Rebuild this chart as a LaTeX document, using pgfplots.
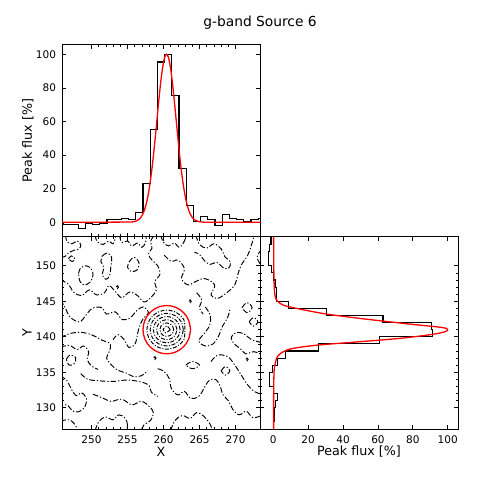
\documentclass[border=0pt]{standalone}
\usepackage{fontspec}
\setmainfont{DejaVu Sans}
\usepackage{pgfplots}
\pgfplotsset{compat=1.18}
\pgfplotsset{
  base/.style={
    scale only axis, width=198pt,
    axis line style={black, line width=0.9pt},
    tick align=inside,
    tick style={black, line width=0.7pt},
    major tick length=4pt, minor tick length=2.2pt,
    tick label style={font=\fontsize{10.5}{12}\selectfont},
    label style={font=\fontsize{12.7}{14}\selectfont},
    /pgf/number format/assume math mode=true,
    yticklabel style={xshift=-2.5pt},
    xticklabel style={yshift=-2.5pt},
    no markers,
  },
  cnt/.style={black, line width=0.95pt, dash pattern=on 5.5pt off 2pt on 1.2pt off 2pt, smooth, tension=0.6, forget plot},
  ring/.style={black, line width=0.95pt, dash pattern=on 4pt off 1.6pt on 1pt off 1.6pt, smooth, tension=0.55, forget plot},
}
\begin{document}
\begin{tikzpicture}
\path[use as bounding box] (0pt,0pt) rectangle (481pt,482pt);

% ---------------- top histogram ----------------
\begin{axis}[base, at={(62pt,245.3pt)}, anchor=south west, height=192pt,
  xmin=245.9, xmax=273.4, ymin=-8.6, ymax=105.7,
  xtick={250,255,260,265,270}, xticklabels={}, minor x tick num=4,
  ytick={0,20,40,60,80,100},
  ylabel={Peak flux [\%]},
  every axis y label/.style={at={(axis description cs:0,0.5)}, xshift=-34pt, rotate=90, anchor=center, font=\fontsize{12.7}{14}\selectfont},
]
\addplot[const plot, black, line width=1.1pt] coordinates {
(245.15,-0.2)(246.15,-1.2)(247.15,-1.2)(248.15,-3.8)(249.15,-0.8)(250.15,-1.6)
(251.15,-0.8)(252.15,1.8)(253.15,1.4)(254.15,2.4)(255.15,1.8)(256.15,5.8)
(257.15,23.2)(258.15,55.4)(259.15,95.4)(260.15,100)(261.15,75.4)(262.15,32.1)
(263.15,10.1)(264.15,0.4)(265.15,3.3)(266.15,1.4)(267.15,-2.2)(268.15,4.8)
(269.15,2.0)(270.15,1.4)(271.15,0.4)(272.15,1.4)(273.15,2.4)(273.6,2.4)};
\addplot[red, line width=1.3pt, smooth] coordinates {
(245.9,0)(250.0,0)(254.42,0.1)(255.42,0.1)(255.92,0.36)(256.42,1.2)(256.67,2.0)(256.92,3.3)
(257.17,5.3)(257.42,8.2)(257.67,12.2)(257.92,17.6)(258.17,24.5)(258.42,32.9)
(258.67,42.7)(258.92,53.5)(259.17,64.8)(259.42,75.7)(259.67,85.5)(259.92,93.3)
(260.17,98.3)(260.42,100)(260.67,98.3)(260.92,93.3)(261.17,85.5)(261.42,75.7)
(261.67,64.8)(261.92,53.5)(262.17,42.7)(262.42,32.9)(262.67,24.5)(262.92,17.6)
(263.17,12.2)(263.42,8.2)(263.67,5.3)(263.92,3.3)(264.17,2.0)(264.42,1.2)
(264.92,0.36)(265.42,0.1)(266.42,0)(270,0)(273.4,0)};
\end{axis}

% ---------------- contour panel ----------------
\begin{axis}[base, at={(62pt,52.7pt)}, anchor=south west, height=192.6pt,
  xmin=245.9, xmax=273.4, ymin=126.96, ymax=154.1,
  xtick={250,255,260,265,270}, ytick={130,135,140,145,150},
  minor x tick num=4, minor y tick num=4,
  xlabel={X}, ylabel={Y},
  every axis y label/.style={at={(axis description cs:0,0.5)}, xshift=-35pt, rotate=90, anchor=center, font=\fontsize{12.7}{14}\selectfont},
  every axis x label/.style={at={(axis description cs:0.5,0)}, yshift=-22.4pt, anchor=center, font=\fontsize{12.7}{14}\selectfont},
]
% noise contours
\addplot[cnt] coordinates {(246.4,154.3)(246.6,153.4)(247.3,153.1)(248.0,153.5)(248.5,153.0)(248.3,152.4)(247.6,152.2)(246.8,151.8)(246.3,151.3)(245.7,151.2)};
\addplot[cnt] coordinates {(246.8,151.0)(247.2,151.4)(247.7,151.0)(247.3,150.6)(246.8,151.0)};
\addplot[cnt] coordinates {(248.2,148.9)(248.5,149.7)(249.3,150.0)(250.0,149.5)(250.2,148.6)(249.8,147.7)(249.0,147.3)(248.4,147.8)(248.2,148.9)};
\addplot[cnt] coordinates {(251.5,151.4)(252.2,151.8)(252.8,151.2)(252.7,150.0)(252.5,148.6)(252.0,148.1)(251.5,148.7)(251.7,149.8)(251.3,150.6)(251.5,151.4)};
\addplot[cnt] coordinates {(250.5,154.3)(250.8,153.4)(251.6,153.0)(252.4,153.5)(253.0,153.1)(253.4,154.3)};
\addplot[cnt] coordinates {(253.9,154.3)(254.2,153.3)(255.0,153.5)(255.6,152.8)(256.4,153.2)(257.0,152.6)(257.5,153.3)(257.6,154.3)};
\addplot[cnt] coordinates {(255.2,150.5)(255.9,151.2)(256.6,150.4)(256.3,149.4)(255.5,149.2)(255.0,149.8)(255.2,150.5)};
\addplot[cnt] coordinates {(245.7,148.0)(246.8,147.4)(247.5,146.3)(248.6,145.8)(249.7,146.6)(250.7,145.9)(251.8,146.2)(252.4,147.2)(253.2,146.5)(254.2,145.5)(255.3,146.3)(256.4,145.8)(257.3,144.9)(258.3,145.6)(259.0,146.6)(258.8,147.8)(259.5,148.8)(259.2,150.0)(258.5,150.7)(257.9,151.6)(258.4,152.5)(258.2,153.4)(258.7,154.3)};
\addplot[cnt] coordinates {(253.45,147.0)(253.6,147.2)(253.75,147.0)(253.6,146.8)(253.45,147.0)};
\addplot[cnt] coordinates {(245.7,145.2)(246.4,144.0)(247.0,142.8)(248.3,142.1)(249.2,143.0)(250.1,144.0)(251.4,144.1)(252.1,143.2)(253.3,143.5)(254.3,142.4)(255.4,142.7)(256.3,143.7)(257.2,144.2)(257.9,143.4)(257.2,142.6)(256.6,141.3)(256.3,139.9)(256.0,138.9)(255.2,138.5)(254.6,139.5)(253.7,140.3)(253.0,139.6)};
\addplot[cnt] coordinates {(245.7,139.9)(247.2,140.5)(248.8,140.6)(250.2,140.2)(251.5,139.5)(252.6,139.0)(252.5,138.0)(252.1,137.0)(252.8,136.0)(253.6,135.3)(254.8,134.9)(255.8,134.4)(256.9,134.5)(257.8,135.2)};
\addplot[cnt] coordinates {(248.5,134.8)(249.5,134.0)(251.0,133.8)(253.0,133.7)(255.0,133.9)(257.0,133.6)(258.0,133.1)(258.3,132.2)(259.2,131.6)};
\addplot[cnt] coordinates {(246.5,136.8)(247.0,137.4)(247.8,137.1)(247.6,136.2)(246.9,136.0)(246.5,136.8)};
\addplot[cnt] coordinates {(245.7,138.5)(246.9,138.8)(248.0,138.2)(248.9,138.7)(249.6,137.9)(249.4,136.8)(250.0,135.9)(250.9,135.4)};
\addplot[cnt] coordinates {(245.7,134.5)(246.6,133.8)(247.2,132.6)(247.9,131.7)(248.6,132.1)(249.3,131.3)(249.0,130.0)(248.1,129.4)(247.3,129.6)(246.6,130.4)(245.7,130.2)};
\addplot[cnt] coordinates {(250.2,131.9)(251.5,131.4)(252.7,130.9)(254.2,131.2)(255.6,130.4)(256.9,130.9)(258.0,130.2)(258.6,129.3)(258.2,128.2)(257.3,127.6)(256.9,126.8)};
\addplot[cnt] coordinates {(245.7,128.1)(246.9,128.3)(247.8,127.5)(248.0,126.8)};
\addplot[cnt] coordinates {(250.5,126.8)(251.0,128.0)(251.9,128.7)(253.0,128.3)(253.8,129.0)(254.7,128.5)(255.0,127.5)(254.8,126.8)};
\addplot[cnt] coordinates {(259.6,154.3)(260.0,153.3)(260.7,152.8)(261.5,153.2)(262.2,152.6)(262.8,153.3)(263.2,154.3)};
\addplot[cnt] coordinates {(260.1,151.5)(261.1,150.6)(262.0,150.8)(262.9,149.6)(262.5,148.2)(263.4,147.3)(264.3,147.7)(265.7,148.2)(267.1,147.3)(266.6,145.9)(267.5,145.4)(268.9,146.3)(269.9,147.3)(270.3,148.7)(270.8,150.1)(271.7,151.5)(272.2,152.9)(272.6,154.3)};
\addplot[cnt] coordinates {(264.5,154.3)(265.0,153.0)(266.0,152.5)(267.0,153.1)(268.0,152.4)(268.5,151.3)(269.3,150.5)(269.0,149.6)(268.2,149.8)(267.4,150.5)(266.5,150.2)(265.7,150.7)(265.0,151.6)(264.3,151.9)};
\addplot[cnt] coordinates {(273.6,152.3)(273.0,151.2)(273.6,150.0)};
\addplot[cnt] coordinates {(264.6,146.2)(265.3,145.2)(265.0,144.1)(265.5,143.2)};
\addplot[cnt] coordinates {(263.55,145.0)(263.7,145.2)(263.85,145.0)(263.7,144.8)(263.55,145.0)};
\addplot[cnt] coordinates {(270.9,144.1)(271.6,144.8)(272.3,144.1)(271.6,143.4)(270.9,144.1)};
\addplot[cnt] coordinates {(271.9,142.1)(272.5,142.7)(273.1,142.1)(272.5,141.5)(271.9,142.1)};
\addplot[cnt] coordinates {(265.8,144.2)(266.5,143.0)(266.4,141.6)(265.6,140.4)(264.9,139.4)(265.8,138.7)(266.9,139.0)(267.6,140.0)(268.2,141.5)(268.9,142.7)(269.2,143.8)};
\addplot[cnt] coordinates {(273.6,139.2)(272.2,139.6)(271.2,140.4)(270.1,140.6)(269.4,139.9)(269.8,139.0)(270.6,138.4)(271.4,137.6)(272.5,137.9)(273.6,137.5)};
\addplot[cnt] coordinates {(263.1,136.0)(264.0,136.5)(265.0,136.0)(264.0,135.5)(263.1,136.0)};
\addplot[cnt] coordinates {(268.0,135.2)(268.6,135.8)(269.2,135.2)(268.6,134.6)(268.0,135.2)};
\addplot[cnt] coordinates {(266.6,136.5)(267.5,137.4)(268.9,137.2)(269.9,136.0)(270.8,134.6)(271.7,133.2)(272.6,132.3)(273.6,131.9)};
\addplot[cnt] coordinates {(259.2,135.5)(260.1,135.1)(260.8,134.1)(261.1,132.7)(262.0,131.8)(262.9,132.3)(263.8,131.3)(264.9,131.6)(265.6,132.7)(266.3,133.8)(267.2,134.0)(267.9,133.0)(268.2,131.9)(269.0,131.0)(269.6,129.8)(270.5,129.0)(271.5,129.5)(272.4,128.6)(273.6,128.9)};
\addplot[cnt] coordinates {(261.0,126.8)(261.6,128.2)(262.6,128.9)(263.7,128.5)(264.6,129.3)(265.6,128.8)(266.4,127.8)(266.8,126.8)};
\addplot[cnt] coordinates {(258.65,137.0)(258.8,137.2)(258.95,137.0)(258.8,136.8)(258.65,137.0)};
\addplot[cnt] coordinates {(271.45,136.8)(271.6,137.0)(271.75,136.8)(271.6,136.6)(271.45,136.8)};
% source rings
\addplot[ring] coordinates {(262.95,141.0)(262.832,142.375)(261.825,143.382)(260.45,143.75)(259.075,143.382)(258.068,142.375)(257.7,141.0)(258.068,139.625)(259.075,138.618)(260.45,138.25)(261.825,138.618)(262.832,139.625)(262.95,141.0)};
\addplot[ring] coordinates {(262.75,141)(262.442,142.15)(261.6,142.992)(260.45,143.3)(259.3,142.992)(258.458,142.15)(258.15,141)(258.458,139.85)(259.3,139.008)(260.45,138.7)(261.6,139.008)(262.442,139.85)(262.75,141)};
\addplot[ring] coordinates {(262.3,141)(262.052,141.925)(261.375,142.602)(260.45,142.85)(259.525,142.602)(258.848,141.925)(258.6,141)(258.848,140.075)(259.525,139.398)(260.45,139.15)(261.375,139.398)(262.052,140.075)(262.3,141)};
\addplot[ring] coordinates {(261.85,141)(261.662,141.7)(261.15,142.212)(260.45,142.4)(259.75,142.212)(259.238,141.7)(259.05,141)(259.238,140.3)(259.75,139.788)(260.45,139.6)(261.15,139.788)(261.662,140.3)(261.85,141)};
\addplot[ring] coordinates {(261.4,141)(261.273,141.475)(260.925,141.823)(260.45,141.95)(259.975,141.823)(259.627,141.475)(259.5,141)(259.627,140.525)(259.975,140.177)(260.45,140.05)(260.925,140.177)(261.273,140.525)(261.4,141)};
\addplot[ring] coordinates {(260.95,141.0)(260.45,141.5)(259.95,141.05)(260.3,140.55)(260.95,141.0)};
% red circle
\addplot[red, line width=1.3pt, smooth, tension=0.6] coordinates {
(263.75,141.0)(263.499,142.302)(262.783,143.404)(261.714,144.142)(260.45,144.4)
(259.186,144.142)(258.117,143.404)(257.401,142.302)(257.15,141.0)(257.401,139.698)
(258.117,138.596)(259.186,137.858)(260.45,137.6)(261.714,137.858)(262.783,138.596)
(263.499,139.698)(263.75,141.0)};
\end{axis}

% ---------------- right histogram ----------------
\begin{axis}[base, at={(260pt,52.7pt)}, anchor=south west, height=192.6pt,
  xmin=-7.6, xmax=105.9, ymin=126.96, ymax=154.1,
  xtick={0,20,40,60,80,100}, ytick={130,135,140,145,150}, yticklabels={},
  minor y tick num=4,
  xlabel={Peak flux [\%]},
  every axis x label/.style={at={(axis description cs:0.5,0)}, yshift=-22.4pt, anchor=center, font=\fontsize{12.7}{14}\selectfont},
]
\addplot[black, line width=1.1pt] coordinates {
(-1.3,154.3)(-1.3,153)(-1.9,153)(-1.9,152)(-2.5,152)(-2.5,150)(-0.9,150)(-0.9,149)
(0.0,149)(0.0,148)(1.3,148)(1.3,147)(1.6,147)(1.6,146)(1.9,146)(1.9,145)
(8.6,145)(8.6,144)(30.5,144)(30.5,143)(62.9,143)(62.9,142)(90.5,142)(90.5,141)
(91.1,141)(91.1,140)(61.0,140)(61.0,139)(25.7,139)(25.7,138)(7.1,138)(7.1,137)
(2.3,137)(2.3,136)(-0.5,136)(-0.5,135)(-1.9,135)(-1.9,133)(0.0,133)(0.0,132)
(2.5,132)(2.5,131)(1.4,131)(1.4,130)(0.7,130)(0.7,129)(0.5,129)(0.5,128)
(0.3,128)(0.3,126.8)};
\addplot[red, line width=1.3pt, smooth, tension=0.5] coordinates {
(0.2,126.96)(0.2,131)(0.3,133.5)(0.6,135.5)(1.9,136.96)(3.5,137.5)(5.7,137.89)
(11.4,138.37)(25.7,138.83)(49.5,139.3)(72.4,139.77)(91.4,140.34)(98.5,140.72)(100,141.0)
(97,141.3)(80,141.74)(62.9,142.21)(49.5,142.59)(30.5,143.2)(15.3,143.9)(5.7,144.46)
(1.9,145.17)(0.9,146.0)(0.5,147.5)(0.3,150)(0.2,154.1)};
\end{axis}

\node[font=\fontsize{13.8}{16}\selectfont, anchor=base] at (260pt,455pt) {g-band Source 6};
\end{tikzpicture}
\end{document}
